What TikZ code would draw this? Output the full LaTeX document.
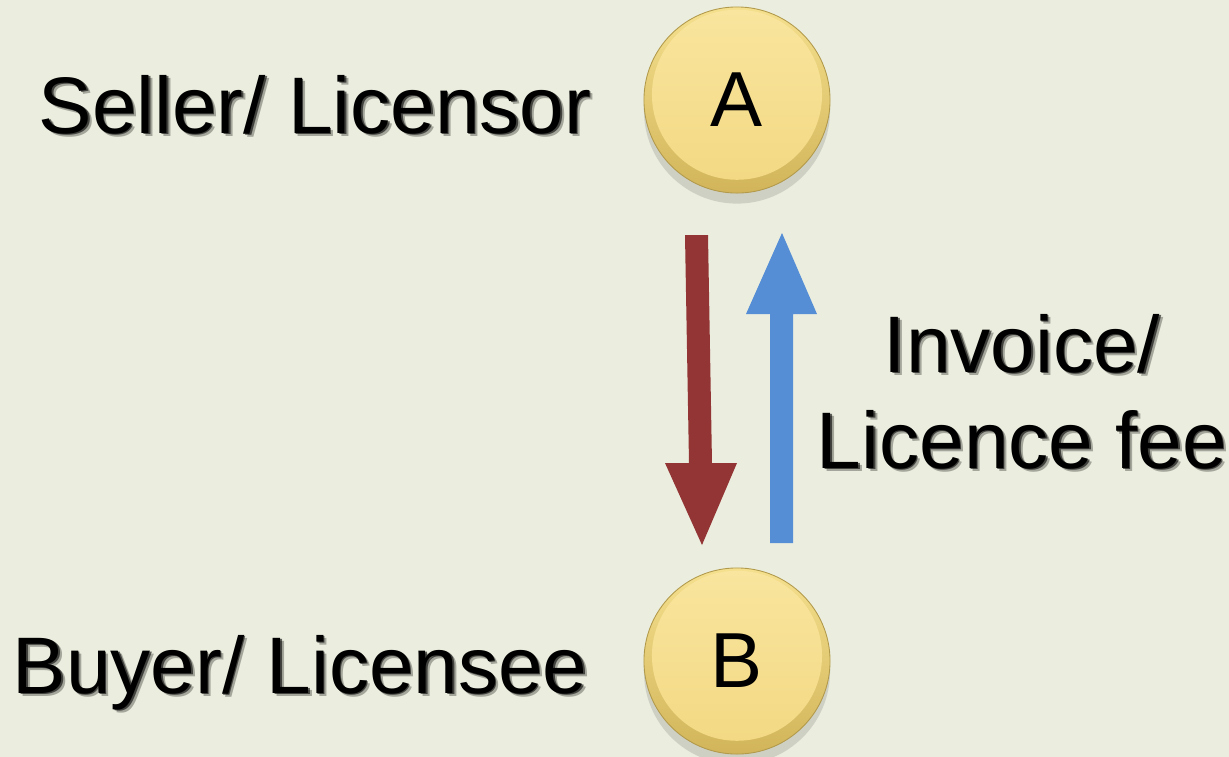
\documentclass[tikz,border=0pt]{standalone}
\usepackage{fontspec}
\setmainfont{Liberation Sans}
\usetikzlibrary{shadows}
\definecolor{bg}{HTML}{EBEEDF}
\definecolor{rimtop}{HTML}{F5E08E}
\definecolor{rimbot}{HTML}{D2B55A}
\definecolor{facetop}{HTML}{F9E59E}
\definecolor{facebot}{HTML}{F2D882}
\definecolor{redarrow}{HTML}{933535}
\definecolor{bluearrow}{HTML}{568ED6}
\begin{document}
\begin{tikzpicture}[x=0.01cm,y=-0.01cm,
  lbl/.style={inner sep=0pt, font=\fontsize{22.8}{27.3}\selectfont, text=black},
  lblshadow/.style={lbl, text=black, opacity=0.6},
  lblshadowfar/.style={lbl, text=black, opacity=0.3},
  coin/.style={circle, minimum size=1.86cm, inner sep=0pt,
    top color=rimtop, bottom color=rimbot, draw=rimbot!85!black, line width=0.25pt,
    font=\fontsize{22.2}{26}\selectfont,
    drop shadow={shadow xshift=0pt, shadow yshift=-3pt, opacity=0.18, fill=black!70},
    path picture={\shade[top color=facetop, bottom color=facebot]
      ([yshift=1.5pt]path picture bounding box.center) circle[radius=0.85cm];}}
]
\fill[bg] (0,0) rectangle (1229,757);
\useasboundingbox (0,0) rectangle (1229,757);

% coins
\node[coin] (A) at (737,100) {A};
\node[coin] (B) at (737,661) {B};

% arrows
\fill[redarrow] (685,235) -- (708,235) -- (712,463) -- (737,463) -- (702,545) -- (665,463) -- (689,463) -- cycle;
\fill[bluearrow] (782,233) -- (817,314) -- (793,314) -- (793,543) -- (770,543) -- (770,314) -- (746,314) -- cycle;

% labels with shadows
\node[lblshadowfar, anchor=base west] (sellersh2) at (41.5,136.5) {Seller/ Licensor};
\node[lblshadow, anchor=base west] (sellersh) at (39.5,134.5) {Seller/ Licensor};
\node[lbl, anchor=base west] (seller) at (38,133) {Seller/ Licensor};
\node[lblshadowfar, anchor=base west] (buyersh2) at (15.5,696.5) {Buyer/ Licensee};
\node[lblshadow, anchor=base west] (buyersh) at (13.5,694.5) {Buyer/ Licensee};
\node[lbl, anchor=base west] (buyer) at (12,693) {Buyer/ Licensee};
\node[lblshadowfar, anchor=base, align=center] (feesh2) at (1025.5,471.5) {Invoice/\\Licence fee};
\node[lblshadow, anchor=base, align=center] (feesh) at (1023.5,469.5) {Invoice/\\Licence fee};
\node[lbl, anchor=base, align=center] (fee) at (1022,468) {Invoice/\\Licence fee};
\end{tikzpicture}
\end{document}
